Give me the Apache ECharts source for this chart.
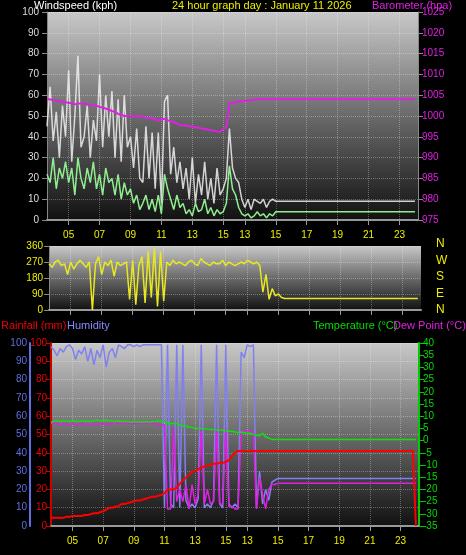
<!DOCTYPE html>
<html>
<head>
<meta charset="utf-8">
<script src="https://cdn.jsdelivr.net/npm/echarts@6/dist/echarts.min.js"></script>
<style>
  html, body { margin: 0; padding: 0; background: #000; }
  #chart { width: 466px; height: 555px; }
</style>
</head>
<body>
<div id="chart"></div>
<script>
// sample index 0..119 across the day, labels as printed on the original
const xTickIndex = [7, 17, 27, 37, 47, 57, 64, 74, 84, 94, 104, 114];
const xTickText = ['05', '07', '09', '11', '13', '15', '13', '15', '17', '19', '21', '23'];
const lastIndex = 119;

const windGust = [45,64,38,52,30,55,40,72,28,50, 79,35,40,55,30,48,38,70,35,60,
    40,62,30,58,28,60,35,40,25,44, 20,18,45,20,42,15,42,8,57,60,
    22,35,18,28,15,25,10,30,8,22, 12,28,10,20,8,25,12,15,20,44,
    25,20,18,10,6,10,5,10,9,8, 10,6,9,10,9];
const windGustTail = 9;
const windAvg = [22,18,30,15,25,20,28,18,25,12, 30,20,15,25,18,28,15,22,12,25,
    18,20,12,22,10,18,12,15,8,12, 5,8,12,5,10,4,12,3,22,15,
    10,5,12,6,8,3,5,2,8,4, 5,10,3,6,2,5,3,4,8,26,
    15,12,6,3,2,3,1,2,4,2, 3,1,3,2,4];
const windAvgTail = 4;
const barometer = [1004,1004,1003.8,1003.7,1003.5,1003.5,1003.3,1003.2,1003,1002.8,
    1003,1003,1003,1002.8,1002.5,1002.5,1002.5,1002.2,1002,1001.8,
    1001.5,1001.2,1001,1000.5,1000.3,1000,1000,1000,1000,999.8,
    1000,999.8,999.5,999.5,999.5,999.3,998.8,999.2,999.3,999,
    998.8,998.5,998.2,997.8,997.8,997.7,997.5,997.5,997.3,997.2,
    997,996.8,996.8,996.5,996.5,996.3,996.2,997,997.2,1003,
    1003.2,1003.3,1003.5,1003.5,1003.6,1003.7,1003.8,1003.9,1004,1004];
const barometerTail = 1004;

const windDir = [260,240,270,280,250,260,200,270,230,260, 280,260,240,270,0,260,300,200,270,250,
    280,190,270,250,260,270,60,280,30,250, 300,40,330,70,350,20,330,50,270,250,
    280,260,270,260,250,270,280,260,250,290, 270,260,250,270,260,260,280,250,270,260,
    250,260,270,260,280,270,260,270,250,100, 200,60,120,80,90,70,65,65,65];
const windDirTail = 65;
const compass = ['N', 'W', 'S', 'E', 'N'];

const humidity = [98,96,93,97,95,98,99,97,91,96, 94,98,90,97,88,96,92,99,87,95,
    97,92,99,98,97,99,99,98,99,98, 99,99,99,99,99,99,99,10,99,12,
    10,99,10,99,14,10,12,10,15,99, 10,12,10,14,99,12,10,99,12,10,
    12,10,95,92,99,98,99,10,30,12, 20,14,24,25,26,26];
const humidityTail = 26;
const dewPoint = [7,7,7,6.5,7,7,6.5,7,6,7, 7,6.5,7,6,7,6.5,7,7,6.5,7,
    7,7,7,7,7,7,7,7,7,7, 7,7,7,7,7,6.5,6.5,6,-28,-28,
    5,-25,-20,-25,-18,-28,-18,-26,-22,5, -26,-20,-26,-25,5,-26,-26,5,-27,-27,
    -28,-28,4,4,4,4,3.5,-28,-15,-22, -28,-20,-18,-18,-17.5,-17.5];
const dewPointTail = -17.5;
const temperature = [7.5,8,8,7.8,8,8,7.8,8,8,7.8, 8,8,7.8,8,8,8.5,8,8,8.3,8,
    8,7.8,8,7.8,7.8,7.8,7.5,7.8,7.7,7.5, 7.7,7.8,7.5,7.8,7.8,8,7.8,7.5,7.3,7,
    7,7,6.5,6,6,5.5,5.5,5,5,5, 4.8,4.8,4.5,4.5,4.3,4.3,4.2,4,3.8,3.8,
    3.5,3.3,3.5,3.2,3,3,2.5,2.2,2,3, 1.5,1,0.5,0.5,0.5,0.5];
const temperatureTail = 0.5;
const rainfall = [4.5,4.5,4.5,4.5,4.5,5,5,5.5,5.5,5.5, 5.5,6,6,6.5,7,7,7.5,8,9,10,
    10,10.5,11,12,12,12.5,13,13.5,14,14, 14.5,15,15.5,16,16,16.5,17,18,20,20,
    20,21,23,25,26.5,28,29.5,30,31,32, 32.5,33,33.5,34,34,34.5,34.5,35,36,38,
    40,41,41,41,41,41,41,41,41,41, 41,41,41,41,41,41];
const rainfallTail = [[118, 41], [119, 0]];

function toPairs(values, tail) {
    const pts = values.map((v, i) => [i, v]);
    if (Array.isArray(tail)) return pts.concat(tail);
    pts.push([lastIndex, tail]);
    return pts;
}

const font = 'Liberation Sans';
const plotBg = {
    type: 'linear', x: 0, y: 0, x2: 0, y2: 1,
    colorStops: [{ offset: 0, color: '#c8c8c8' }, { offset: 0.5, color: '#6a6a6a' }, { offset: 1, color: '#111' }]
};
const gridLine = { show: true, lineStyle: { color: 'rgba(255,255,255,0.3)', type: 'dotted' } };

function xAxisFor(gridIndex, showLabels) {
    return {
        type: 'value', gridIndex: gridIndex, min: 0, max: lastIndex + 1,
        axisLine: { show: true, lineStyle: { color: '#999', width: 2 } },
        axisTick: { show: true, customValues: xTickIndex, lineStyle: { color: '#999' } },
        axisLabel: {
            show: showLabels, customValues: xTickIndex, color: '#ee0', fontFamily: font, fontSize: 10, margin: 10,
            formatter: v => xTickText[xTickIndex.indexOf(v)]
        },
        splitLine: gridLine,
        splitNumber: 12
    };
}

const plain = v => String(v);
const chart = echarts.init(document.getElementById('chart'));

chart.setOption({
    backgroundColor: '#000',
    animation: false,
    grid: [
        { left: 47, right: 48, top: 12, height: 208, show: true, backgroundColor: plotBg, borderWidth: 0 },
        { left: 49, right: 45, top: 246, height: 64, show: true, backgroundColor: plotBg, borderWidth: 0 },
        { left: 51, right: 47, top: 343, height: 183, show: true, backgroundColor: plotBg, borderWidth: 0 }
    ],
    xAxis: [xAxisFor(0, true), xAxisFor(1, false), xAxisFor(2, true)],
    yAxis: [
        { type: 'value', gridIndex: 0, min: 0, max: 100, interval: 10,
          axisLine: { show: true, lineStyle: { color: '#888' } }, axisTick: { show: true, lineStyle: { color: '#888' } },
          axisLabel: { color: '#ddd', fontFamily: font, fontSize: 10, margin: 8 }, splitLine: gridLine },
        { type: 'value', gridIndex: 0, position: 'right', min: 975, max: 1025, interval: 5,
          axisLine: { show: true, lineStyle: { color: '#888' } }, axisTick: { show: true, lineStyle: { color: '#888' } },
          axisLabel: { color: '#e020e0', fontFamily: font, fontSize: 10, margin: 4, formatter: plain }, splitLine: { show: false } },
        { type: 'value', gridIndex: 1, min: 0, max: 360, interval: 90,
          axisLine: { show: true, lineStyle: { color: '#888' } }, axisTick: { show: true, lineStyle: { color: '#888' } },
          axisLabel: { color: '#ee0', fontFamily: font, fontSize: 10, margin: 6 }, splitLine: gridLine },
        { type: 'value', gridIndex: 2, min: 0, max: 100, interval: 10,
          axisLine: { show: true, lineStyle: { color: '#c00', width: 2 } }, axisTick: { show: true, lineStyle: { color: '#c00' } },
          axisLabel: { color: '#e00', fontFamily: font, fontSize: 10, margin: 4 }, splitLine: gridLine },
        { type: 'value', gridIndex: 2, position: 'left', min: 0, max: 100, interval: 10, offset: 21,
          axisLine: { show: true, lineStyle: { color: '#6070e0', width: 2 } }, axisTick: { show: false },
          axisLabel: { color: '#6070e0', fontFamily: font, fontSize: 10, margin: 3 }, splitLine: { show: false } },
        { type: 'value', gridIndex: 2, position: 'right', min: -35, max: 40, interval: 5,
          axisLine: { show: true, lineStyle: { color: '#0c0', width: 2 } }, axisTick: { show: true, lineStyle: { color: '#0c0' } },
          axisLabel: { color: '#0d0', fontFamily: font, fontSize: 10, margin: 4 }, splitLine: { show: false } }
    ],
    graphic: [
        { type: 'text', left: 34, top: 0, style: { text: 'Windspeed (kph)', fill: '#fff', font: '11px ' + font } },
        { type: 'text', left: 172, top: 0, style: { text: '24 hour graph day : January 11 2026', fill: '#ee0', font: '11px ' + font } },
        { type: 'text', left: 372, top: 0, style: { text: 'Barometer (hpa)', fill: '#e020e0', font: '11px ' + font } },
        ...compass.map((c, i) => ({ type: 'text', left: 436, top: 238 + i * 16.5,
            style: { text: c, fill: '#ee0', font: '12px ' + font } })),
        { type: 'text', left: 1, top: 320, style: { text: 'Rainfall (mm)', fill: '#e00', font: '11px ' + font } },
        { type: 'text', left: 67, top: 320, style: { text: 'Humidity', fill: '#8888ff', font: '11px ' + font } },
        { type: 'text', left: 313, top: 320, style: { text: 'Temperature (°C)', fill: '#0d0', font: '11px ' + font } },
        { type: 'text', left: 393, top: 320, style: { text: 'Dew Point (°C)', fill: '#e020e0', font: '11px ' + font } }
    ],
    series: [
        { type: 'line', xAxisIndex: 0, yAxisIndex: 0, data: toPairs(windGust, windGustTail), symbol: 'none',
          lineStyle: { color: 'rgba(240,240,240,0.85)', width: 1.5 } },
        { type: 'line', xAxisIndex: 0, yAxisIndex: 0, data: toPairs(windAvg, windAvgTail), symbol: 'none',
          lineStyle: { color: '#90ee90', width: 1.5 } },
        { type: 'line', xAxisIndex: 0, yAxisIndex: 1, data: toPairs(barometer, barometerTail), symbol: 'none',
          lineStyle: { color: '#e020e0', width: 2 } },
        { type: 'line', xAxisIndex: 1, yAxisIndex: 2, data: toPairs(windDir, windDirTail), symbol: 'none',
          lineStyle: { color: '#e8e820', width: 1.5 } },
        { type: 'line', xAxisIndex: 2, yAxisIndex: 4, data: toPairs(humidity, humidityTail), symbol: 'none',
          lineStyle: { color: '#8080f0', width: 1.5 } },
        { type: 'line', xAxisIndex: 2, yAxisIndex: 5, data: toPairs(dewPoint, dewPointTail), symbol: 'none',
          lineStyle: { color: '#e020e0', width: 1.5 } },
        { type: 'line', xAxisIndex: 2, yAxisIndex: 5, data: toPairs(temperature, temperatureTail), symbol: 'none',
          lineStyle: { color: '#10e010', width: 1.5 } },
        { type: 'line', xAxisIndex: 2, yAxisIndex: 3, data: toPairs(rainfall, rainfallTail), symbol: 'none',
          lineStyle: { color: '#f00', width: 2 } }
    ]
});
</script>
</body>
</html>
